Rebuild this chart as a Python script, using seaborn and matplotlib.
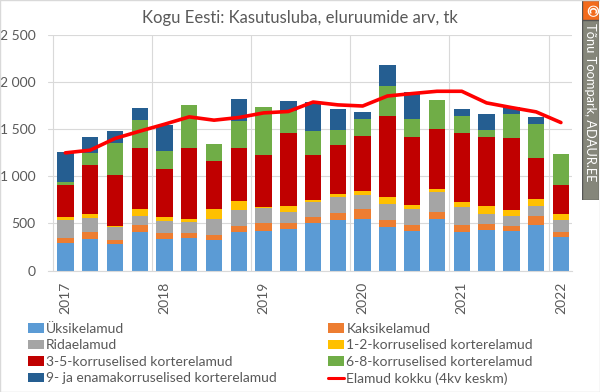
import numpy as np
import pandas as pd
import matplotlib
matplotlib.use("Agg")
import matplotlib.pyplot as plt
import seaborn as sns
from matplotlib.patches import Patch, Rectangle
from matplotlib.lines import Line2D

# quarterly data, 2017 I .. 2022 I
quarters = [f"{y} {q}" for y in range(2017, 2023) for q in ["I", "II", "III", "IV"]][:21]
year_labels = ["2017", "2018", "2019", "2020", "2021", "2022"]

uksik = [290, 340, 285, 410, 335, 350, 330, 405, 425, 440, 510, 535, 545, 460, 420, 545, 410, 435, 420, 480, 360]
kaksik = [60, 70, 40, 70, 60, 45, 45, 65, 80, 65, 60, 80, 110, 75, 65, 75, 70, 60, 50, 100, 50]
rida = [185, 145, 140, 100, 135, 125, 175, 170, 155, 115, 155, 165, 150, 170, 170, 210, 195, 110, 105, 110, 125]
k12 = [35, 50, 12, 70, 40, 25, 105, 95, 18, 65, 25, 35, 35, 80, 45, 30, 55, 80, 65, 65, 65]
k35 = [335, 510, 535, 650, 505, 755, 510, 565, 545, 770, 475, 520, 590, 855, 720, 640, 725, 730, 770, 435, 305]
k68 = [35, 135, 340, 300, 195, 455, 175, 285, 510, 235, 255, 150, 180, 315, 190, 305, 180, 80, 245, 360, 330]
k9 = [320, 170, 125, 125, 270, 0, 0, 235, 0, 110, 310, 230, 75, 220, 285, 0, 75, 165, 80, 80, 0]
avg4 = [1248, 1276, 1400, 1477, 1551, 1629, 1594, 1622, 1671, 1686, 1786, 1756, 1744, 1850, 1876, 1900, 1900, 1777, 1728, 1682, 1569]

series = ["Üksikelamud", "Kaksikelamud", "Ridaelamud", "1-2-korruselised korterelamud",
          "3-5-korruselised korterelamud", "6-8-korruselised korterelamud",
          "9- ja enamakorruselised korterelamud"]
colors = ["#5B9BD5", "#ED7D31", "#A5A5A5", "#FFC000", "#C00000", "#70AD47", "#255E91"]

df = pd.DataFrame(dict(zip(series, [uksik, kaksik, rida, k12, k35, k68, k9])), index=quarters)
cum = df.cumsum(axis=1)

sns.set_theme(style="white")
plt.rcParams["font.family"] = ["Lato", "DejaVu Sans"]
grey = "#595959"

fig = plt.figure(figsize=(6, 3.92), dpi=100)
ax = fig.add_axes([0.08, 0.3094, 0.873, 0.6023])

# stacked bars: draw cumulative totals from the top layer down
for name, col in reversed(list(zip(series, colors))):
    sns.barplot(x=quarters, y=cum[name].values, color=col, saturation=1,
                width=0.66, ax=ax, linewidth=0, zorder=2)

sns.lineplot(x=np.arange(len(quarters)), y=avg4, color="#FF0000", linewidth=2.6,
             ax=ax, zorder=3)

ax.set_ylim(0, 2500)
ax.set_xlim(-0.7, 20.44)
ax.set_yticks(range(0, 2501, 500))
ax.set_yticklabels([f"{v:,}".replace(",", " ") for v in range(0, 2501, 500)],
                   color=grey, fontsize=10)
ax.set_xticks([0, 4, 8, 12, 16, 20])
ax.set_xticklabels(year_labels, rotation=90, color=grey, fontsize=10)
ax.set_xticks(np.arange(-0.5, 20, 4), minor=True)
ax.tick_params(axis="x", which="major", length=0, pad=8)
ax.tick_params(axis="x", which="minor", length=5, color="#D9D9D9", width=0.8)
ax.tick_params(axis="y", length=0, pad=9)
ax.set_xlabel("")
ax.set_ylabel("")
ax.grid(axis="y", color="#D9D9D9", linewidth=0.8, zorder=0)
ax.grid(axis="x", which="minor", color="#D9D9D9", linewidth=0.8, zorder=0)
ax.set_axisbelow(True)
for s in ["top", "right", "left"]:
    ax.spines[s].set_visible(False)
ax.spines["bottom"].set_color("#D9D9D9")
ax.spines["bottom"].set_linewidth(0.8)

fig.text(0.5, 1 - 18 / 392, "Kogu Eesti: Kasutusluba, eluruumide arv, tk",
         ha="center", va="center", color=grey, fontsize=12)

# legend, row-major in two columns
handles = [Patch(facecolor=c, edgecolor="none") for c in colors]
handles.append(Line2D([0], [0], color="#FF0000", linewidth=2.2))
labels = series + ["Elamud kokku (4kv keskm)"]
order = [0, 2, 4, 6, 1, 3, 5, 7]
fig.legend([handles[i] for i in order], [labels[i] for i in order],
           loc="upper left", bbox_to_anchor=(28 / 600, 1 - 323 / 392), ncol=2,
           frameon=False, fontsize=10, labelcolor=grey, handlelength=1.15,
           handleheight=0.7, handletextpad=0.15, columnspacing=3.7,
           labelspacing=0.32, borderpad=0, borderaxespad=0)

# watermark box on the right
wm = fig.add_axes([582 / 600, 1 - 200 / 392, 17 / 600, 200 / 392])
wm.set_xlim(0, 1)
wm.set_ylim(0, 1)
wm.add_patch(Rectangle((0, 0), 1, 1, facecolor="#85867A", edgecolor="#555555", linewidth=1))
wm.add_patch(Rectangle((0, 1 - 20 / 200), 1, 20 / 200, facecolor="#F26B1D",
                       edgecolor="#555555", linewidth=1))
wm.text(0.5, 1 - 10 / 200, "©", rotation=270, ha="center", va="center",
        color="white", fontsize=11, fontweight="bold")
wm.text(0.5, 1 - 23 / 200, "Tõnu Toompark, ADAUR.EE", rotation=270, ha="center",
        va="top", color="white", fontsize=9.3)
wm.axis("off")

fig.patches.append(Rectangle((0, 0), 1, 1, transform=fig.transFigure, fill=False,
                             edgecolor="#D9D9D9", linewidth=1))

fig.savefig("out.png", dpi=100)
